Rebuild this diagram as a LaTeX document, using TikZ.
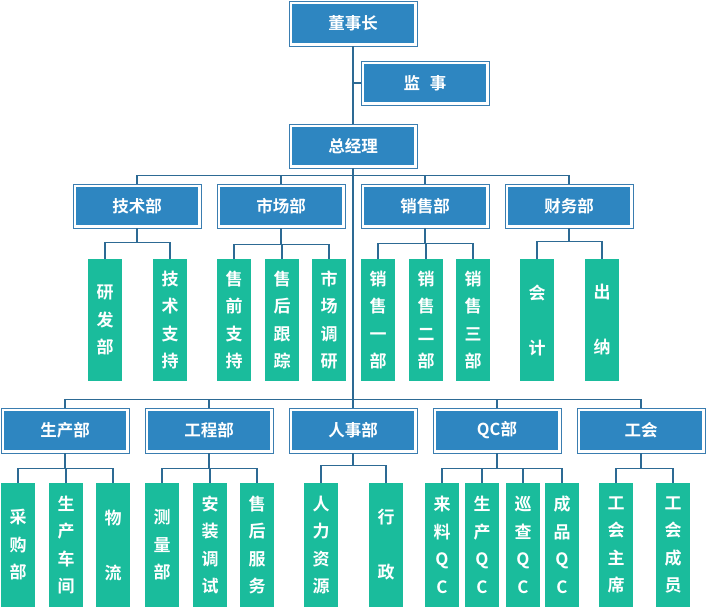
\documentclass[tikz,border=0pt]{standalone}
\usepackage{fontspec}
\setmainfont{Noto Sans CJK SC}[BoldFont={Noto Sans CJK SC Bold}]
\definecolor{boxblue}{HTML}{2E86C1}
\definecolor{boxedge}{HTML}{3A7DB0}
\definecolor{teal}{HTML}{1ABC9C}
\definecolor{linecol}{HTML}{2D6A94}
\tikzset{
  dept/.style={draw=boxedge, line width=0.8pt, fill=white, minimum width=128pt, minimum height=44pt,
    inner sep=0pt, text=white, font=\fontsize{16.5}{20}\selectfont\bfseries,
    path picture={\fill[boxblue] ([shift={(3pt,3pt)}]path picture bounding box.south west) rectangle ([shift={(-3pt,-3pt)}]path picture bounding box.north east);}},
  sub/.style={fill=teal, minimum width=34pt, inner sep=0pt, text=white, align=center,
    font=\fontsize{17}{27.5}\selectfont\bfseries},
  subA/.style={sub, minimum height=122pt},
  subB/.style={sub, minimum height=124pt},
  conn/.style={draw=linecol, line width=1.2pt}
}
\begin{document}
\begin{tikzpicture}[x=1pt,y=-1pt]
\useasboundingbox (0,0) rectangle (707,608);
% top
\node[dept, minimum height=45pt] (dsz) at (353,23.5) {董事长};
\node[dept] (js) at (425,83) {监\hspace{0.6em}事};
\node[dept] (zjl) at (353,146) {总经理};
% level 2 departments
\node[dept] (jsb) at (137,206) {技术部};
\node[dept] (scb) at (281,206) {市场部};
\node[dept] (xsb) at (425,206) {销售部};
\node[dept] (cwb) at (569,206) {财务部};
% level 2 children
\node[subA] (yfb) at (105,320) {研\\发\\部};
\node[subA] (jszc) at (170,320) {技\\术\\支\\持};
\node[subA] (sqzc) at (234,320) {售\\前\\支\\持};
\node[subA] (shgz) at (282,320) {售\\后\\跟\\踪};
\node[subA] (scdy) at (329,320) {市\\场\\调\\研};
\node[subA] (xs1) at (378,320) {销\\售\\一\\部};
\node[subA] (xs2) at (426,320) {销\\售\\二\\部};
\node[subA] (xs3) at (473,320) {销\\售\\三\\部};
\node[subA] (kj) at (537,320) {会\\[27.5pt]计};
\node[subA] (cn) at (602,320) {出\\[27.5pt]纳};
% level 3 departments
\node[dept, minimum height=45pt] (sc) at (65,430.5) {生产部};
\node[dept, minimum height=45pt] (gcb) at (209,430.5) {工程部};
\node[dept, minimum height=45pt] (rsb) at (353,430.5) {人事部};
\node[dept, minimum height=45pt] (qcb) at (497,430.5) {QC部};
\node[dept, minimum height=45pt] (gh) at (641,430.5) {工会};
% level 3 children
\node[subB] (cgb) at (18,545) {采\\购\\部};
\node[subB] (sccj) at (66,545) {生\\产\\车\\间};
\node[subB] (wl) at (113,545) {物\\[27.5pt]流};
\node[subB] (clb) at (162,545) {测\\量\\部};
\node[subB] (aztx) at (210,545) {安\\装\\调\\试};
\node[subB] (shfw) at (257,545) {售\\后\\服\\务};
\node[subB] (rlzy) at (321,545) {人\\力\\资\\源};
\node[subB] (xz) at (386,545) {行\\[27.5pt]政};
\node[subB] (llqc) at (442,545) {来\\料\\Q\\C};
\node[subB] (scqc) at (482,545) {生\\产\\Q\\C};
\node[subB] (xcqc) at (523,545) {巡\\查\\Q\\C};
\node[subB] (cpqc) at (562,545) {成\\品\\Q\\C};
\node[subB] (ghzx) at (616,545) {工\\会\\主\\席};
\node[subB] (ghcy) at (673,545) {工\\会\\成\\员};
% trunk
\draw[conn] (dsz.south) -- (zjl.north);
\draw[conn] (js.west) -- (js.west -| dsz.south);
\draw[conn] (zjl.south) -- (rsb.north);
% level 2 bus
\draw[conn] (jsb.north) -- ++(0,-8) -| (cwb.north);
\draw[conn] (scb.north) -- ++(0,-8);
\draw[conn] (xsb.north) -- ++(0,-8);
% level 2 sub buses
\foreach \c in {yfb,jszc} \draw[conn] (jsb.south) -- ++(0,14) -| (\c.north);
\foreach \c in {sqzc,shgz,scdy} \draw[conn] (scb.south) -- ++(0,16) -| (\c.north);
\foreach \c in {xs1,xs2,xs3} \draw[conn] (xsb.south) -- ++(0,15) -| (\c.north);
\foreach \c in {kj,cn} \draw[conn] (cwb.south) -- ++(0,13) -| (\c.north);
% level 3 bus
\draw[conn] (sc.north) -- ++(0,-8) -| (gh.north);
\draw[conn] (gcb.north) -- ++(0,-8);
\draw[conn] (qcb.north) -- ++(0,-8);
% level 3 sub buses
\foreach \c in {cgb,sccj,wl} \draw[conn] (sc.south) -- ++(0,15) -| (\c.north);
\foreach \c in {clb,aztx,shfw} \draw[conn] (gcb.south) -- ++(0,15) -| (\c.north);
\foreach \c in {rlzy,xz} \draw[conn] (rsb.south) -- ++(0,12) -| (\c.north);
\foreach \c in {llqc,scqc,xcqc,cpqc} \draw[conn] (qcb.south) -- ++(0,15) -| (\c.north);
\foreach \c in {ghzx,ghcy} \draw[conn] (gh.south) -- ++(0,15) -| (\c.north);
\end{tikzpicture}
\end{document}
